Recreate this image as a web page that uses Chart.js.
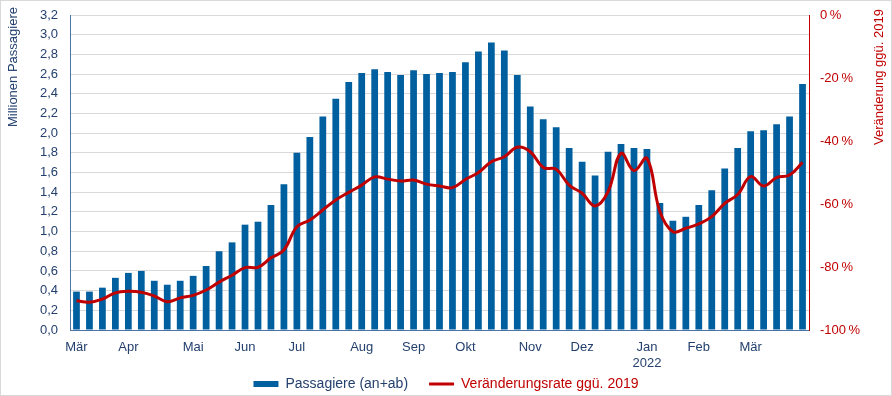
<!DOCTYPE html>
<html>
<head>
<meta charset="utf-8">
<script src="https://cdn.jsdelivr.net/npm/chart.js@4/dist/chart.umd.min.js"></script>
<style>
  html, body { margin: 0; padding: 0; background: #fff; }
  #wrap { position: relative; width: 892px; height: 396px; overflow: hidden; font-family: "Liberation Sans", Arial, sans-serif; }
  #frame { position: absolute; left: 0; top: 0; width: 890px; height: 394px; border: 1px solid #d9d9d9; pointer-events: none; }
  .ytitle { position: absolute; font-size: 13px; white-space: nowrap; transform-origin: 0 0; transform: rotate(-90deg); }
  #ltitle { color: #24406e; left: 5px; top: 127px; }
  #rtitle { color: #c00000; left: 871px; top: 145px; }
</style>
</head>
<body>
<div id="wrap">
  <canvas id="c" width="892" height="396"></canvas>
  <div id="ltitle" class="ytitle">Millionen Passagiere</div>
  <div id="rtitle" class="ytitle">Veränderung ggü. 2019</div>
  <div id="frame"></div>
</div>
<script>
// Weekly categories: KW9/2021 ... KW13/2022
const weeks = [];
for (let w = 9; w <= 52; w++) weeks.push('KW' + w + '/2021');
for (let w = 1; w <= 13; w++) weeks.push('KW' + w + '/2022');

const tickLabels = ['Mär','','','','Apr','','','','','Mai','','','','Jun','','','','Jul','','','','','Aug','','','','Sep','','','','Okt','','','','','Nov','','','','Dez','','','','',['Jan','2022'],'','','','Feb','','','','Mär','','','',''];

const passengers = [0.39,0.39,0.43,0.53,0.58,0.60,0.50,0.46,0.50,0.55,0.65,0.80,0.89,1.07,1.10,1.27,1.48,1.80,1.96,2.17,2.35,2.52,2.61,2.65,2.62,2.59,2.64,2.60,2.61,2.62,2.72,2.83,2.92,2.84,2.59,2.27,2.14,2.06,1.85,1.71,1.57,1.81,1.89,1.85,1.84,1.29,1.11,1.15,1.27,1.42,1.64,1.85,2.02,2.03,2.09,2.17,2.50];

const change2019 = [-90.7,-91.2,-90.2,-88.2,-87.7,-88.0,-89.2,-91.0,-89.8,-89.0,-87.3,-84.8,-82.6,-80.2,-80.1,-77.1,-74.6,-67.2,-65.1,-61.9,-58.7,-56.3,-54.0,-51.4,-52.1,-52.7,-52.4,-53.7,-54.3,-54.8,-52.2,-50.0,-46.6,-45.0,-42.0,-43.4,-48.4,-49.0,-54.0,-56.6,-60.6,-56.1,-43.9,-49.4,-45.5,-62.4,-68.8,-67.7,-66.3,-64.0,-59.8,-57.0,-51.3,-54.3,-51.6,-50.8,-46.8];

const seriesNames = ['Passagiere (an+ab)', 'Veränderungsrate ggü. 2019'];

const blue = '#005f9e';
const red = '#c00000';
const navy = '#24406e';
const font = { family: '"Liberation Sans", Arial, sans-serif', size: 13 };
const legendFont = { family: '"Liberation Sans", Arial, sans-serif', size: 14 };

// let the bottom legend start a little higher, right under the two-line x labels
const legendNudge = {
  id: 'legendNudge',
  afterLayout(chart) {
    const lg = chart.legend;
    if (lg) { lg.top -= 14; lg.height += 14; }
  }
};

new Chart(document.getElementById('c'), {
  plugins: [legendNudge],
  data: {
    labels: weeks,
    datasets: [
      {
        type: 'line',
        label: seriesNames[1],
        data: change2019,
        yAxisID: 'y2',
        borderColor: red,
        backgroundColor: red,
        borderWidth: 3,
        pointRadius: 0,
        tension: 0.4,
        order: 0
      },
      {
        type: 'bar',
        label: seriesNames[0],
        data: passengers,
        yAxisID: 'y',
        backgroundColor: blue,
        borderWidth: 0,
        categoryPercentage: 1,
        barPercentage: 0.52,
        order: 1
      }
    ]
  },
  options: {
    responsive: false,
    animation: false,
    devicePixelRatio: 1,
    layout: { padding: { top: 15, left: 0, right: 0, bottom: 0 } },
    plugins: {
      tooltip: { enabled: false },
      legend: {
        position: 'bottom',
        reverse: true,
        maxHeight: 26,
        labels: {
          font: legendFont,
          usePointStyle: true,
          pointStyleWidth: 25,
          boxHeight: 6,
          padding: 21,
          generateLabels: (chart) => {
            return chart.data.datasets.map((ds, i) => ({
              text: ds.label,
              fillStyle: ds.type === 'bar' ? blue : red,
              strokeStyle: ds.type === 'bar' ? blue : red,
              lineWidth: ds.type === 'bar' ? 0 : 3,
              pointStyle: ds.type === 'bar' ? 'rect' : 'line',
              fontColor: ds.type === 'bar' ? navy : red,
              datasetIndex: i,
              hidden: false
            }));
          }
        }
      }
    },
    scales: {
      x: {
        offset: true,
        grid: { display: false, drawTicks: false },
        border: { color: '#4a74a8', width: 1 },
        ticks: {
          autoSkip: false,
          maxRotation: 0,
          minRotation: 0,
          padding: 10,
          color: navy,
          font: font,
          callback: (v, i) => tickLabels[i]
        },
        afterFit: (s) => { s.height = 40; }
      },
      y: {
        position: 'left',
        min: 0,
        max: 3.2,
        ticks: {
          stepSize: 0.2,
          color: navy,
          font: font,
          padding: 12,
          callback: (v) => v.toFixed(1).replace('.', ',')
        },
        grid: { color: '#d9d9d9', lineWidth: 1, drawTicks: false },
        border: { color: '#4a74a8', width: 1 },
        afterFit: (s) => { s.width = 70; s.paddingTop = 0; s.paddingBottom = 0; }
      },
      y2: {
        position: 'right',
        min: -100,
        max: 0,
        ticks: {
          stepSize: 20,
          color: red,
          font: font,
          padding: 11,
          callback: (v) => v + '\u2009%'
        },
        grid: { display: false, drawTicks: false },
        border: { color: red, width: 1 },
        afterFit: (s) => { s.width = 83; s.paddingTop = 0; s.paddingBottom = 0; }
      }
    }
  }
});
</script>
</body>
</html>
